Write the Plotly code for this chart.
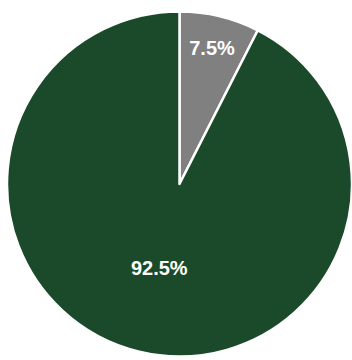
import plotly.graph_objects as go

labels = ["Gray", "Green"]
values = [7.5, 92.5]
colors = ["#808080", "#1a4a2a"]

fig = go.Figure(go.Pie(
    labels=labels,
    values=values,
    sort=False,
    direction="clockwise",
    rotation=0,
    marker=dict(colors=colors, line=dict(color="white", width=2.5)),
    texttemplate="%{percent:.1%}",
    textposition="inside",
    insidetextorientation="horizontal",
    textfont=dict(family="Liberation Sans, Arial", size=20, color="white", weight="bold"),
    showlegend=False,
    hoverinfo="label+percent",
))

fig.update_layout(
    width=352, height=360,
    margin=dict(l=7, r=0, t=8, b=0),
    paper_bgcolor="white",
    plot_bgcolor="white",
)

fig.write_html("out.html")
